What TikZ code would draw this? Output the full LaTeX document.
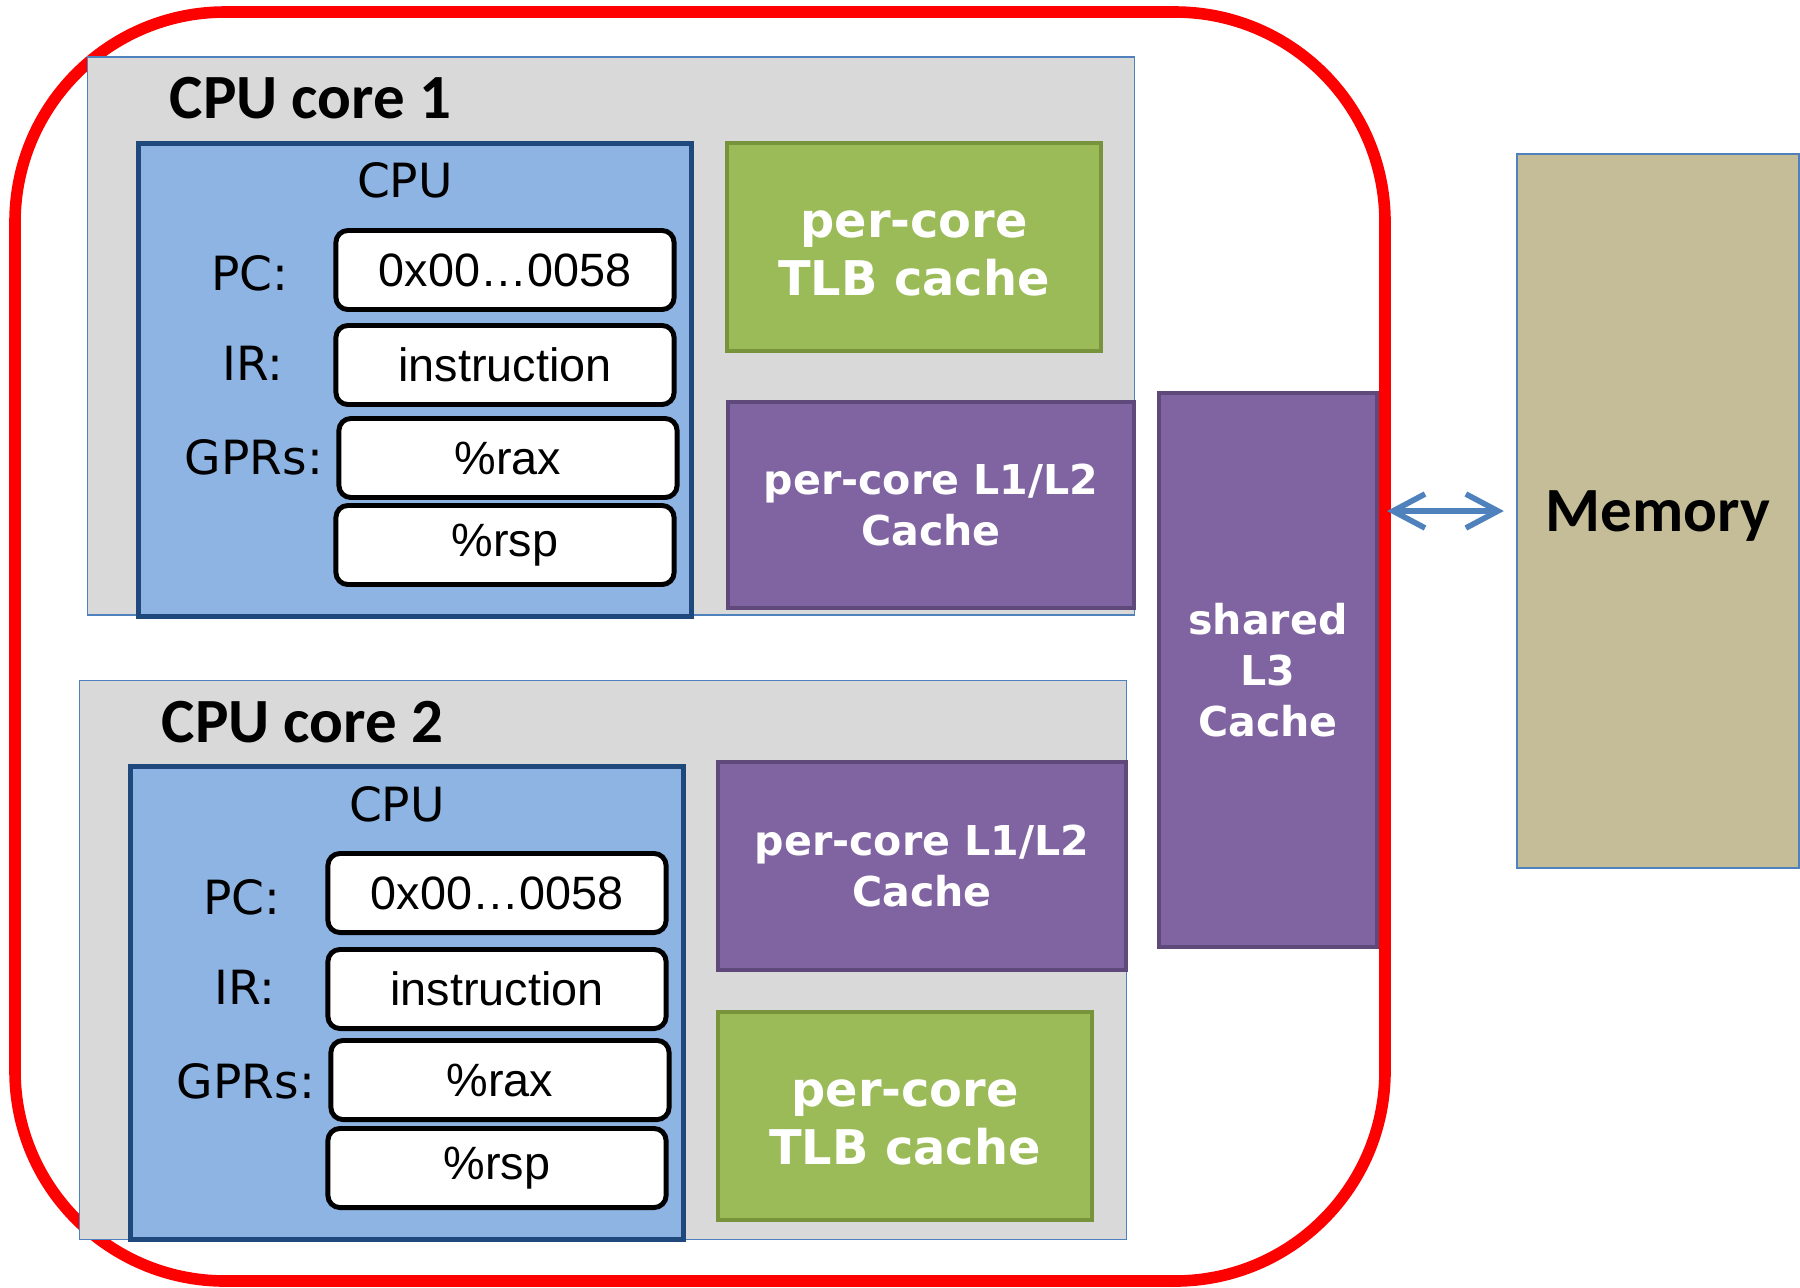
\documentclass[tikz,border=0pt]{standalone}
\usepackage{fontspec}
\setmainfont{DejaVu Sans}
\newfontfamily\headfont{Carlito}
\newfontfamily\regfont{Liberation Sans}
\usetikzlibrary{arrows.meta}
\usetikzlibrary{positioning}

\definecolor{coregray}{HTML}{D9D9D9}
\definecolor{coreedge}{HTML}{4F81BD}
\definecolor{cpublue}{HTML}{8EB4E3}
\definecolor{cpuedge}{HTML}{1F497D}
\definecolor{tlbgreen}{HTML}{9BBB59}
\definecolor{tlbedge}{HTML}{77933C}
\definecolor{cachepurple}{HTML}{8064A2}
\definecolor{cacheedge}{HTML}{5F497A}
\definecolor{memtan}{HTML}{C4BD97}

\begin{document}
\begin{tikzpicture}
	[x=0.01cm, y=-0.01cm,
	corebox/.style = {draw=coreedge, line width=0.4pt, fill=coregray, inner sep=0pt},
	cpubox/.style = {draw=cpuedge, line width=1.5pt, fill=cpublue, minimum width=5.53cm, minimum height=4.73cm, inner sep=0pt},
	regbox/.style = {draw=black, line width=1.4pt, fill=white, rounded corners=0.12cm, minimum width=3.38cm, minimum height=0.79cm, inner sep=0pt, font=\regfont\fontsize{13.3}{16}\selectfont},
	reglabel/.style = {inner sep=0pt, font=\fontsize{13.4}{16}\selectfont},
	tlbbox/.style = {draw=tlbedge, line width=1.1pt, fill=tlbgreen, minimum width=3.73cm, minimum height=2.08cm, inner sep=0pt},
	tlbtext/.style = {inner sep=0pt, align=center, text=white, font=\bfseries\fontsize{13.6}{16.5}\selectfont},
	cachebox/.style = {draw=cacheedge, line width=1.1pt, fill=cachepurple, inner sep=0pt, align=center, text=white, font=\bfseries\fontsize{11.7}{14.6}\selectfont},
	coretitle/.style = {anchor=base west, inner sep=0pt, font=\headfont\bfseries\fontsize{17.9}{20}\selectfont},
	barb/.tip = {Straight Barb[length=3.2mm,width=3.4mm]}
	]
	\useasboundingbox (0,0) rectangle (1800,1287);

	\node[cachebox, minimum width=2.18cm, minimum height=5.54cm] (l3) at (1268,670) {shared\\L3\\Cache};
	\draw[red, line width=3.3pt, rounded corners=2.1cm] (15,12) rectangle (1385,1281);

	\node[corebox, minimum width=10.46cm, minimum height=5.58cm] (core1) at (611,336) {};
	\node[coretitle] (title1) at (169,118) {CPU core 1};
	\node[cpubox] (cpu1) at (415,380) {};
	\node[reglabel, anchor=base] (cpulbl1) at (405,197) {CPU};
	\node[regbox] (pc1) at (505,270) {0x00…0058};
	\node[regbox] (ir1) at (505,365) {instruction};
	\node[regbox] (rax1) at (508,458) {\%rax};
	\node[regbox] (rsp1) at (505,545) {\%rsp};
	\node[reglabel] (pclbl1) at (250,273) {PC:};
	\node[reglabel] (irlbl1) at (253,363) {IR:};
	\node[reglabel] (gprlbl1) at (254,457) {GPRs:};
	\node[tlbbox] (tlb1) at (914,247) {};
	\node[tlbtext] (tlbtxt1) at (914,253) {per-core\\TLB cache};
	\node[cachebox, minimum width=4.06cm, minimum height=2.06cm] (l12a) at (931,505) {per-core L1/L2\\Cache};

	\node[corebox, minimum width=10.46cm, minimum height=5.59cm] (core2) at (603,960) {};
	\node[coretitle] (title2) at (161,742) {CPU core 2};
	\node[cpubox] (cpu2) at (407,1003) {};
	\node[reglabel, anchor=base] (cpulbl2) at (397,821) {CPU};
	\node[regbox] (pc2) at (497,893) {0x00…0058};
	\node[regbox] (ir2) at (497,989) {instruction};
	\node[regbox] (rax2) at (500,1080) {\%rax};
	\node[regbox] (rsp2) at (497,1168) {\%rsp};
	\node[reglabel] (pclbl2) at (242,897) {PC:};
	\node[reglabel] (irlbl2) at (245,987) {IR:};
	\node[reglabel] (gprlbl2) at (246,1081) {GPRs:};
	\node[cachebox, minimum width=4.07cm, minimum height=2.08cm] (l12b) at (922,866) {per-core L1/L2\\Cache};
	\node[tlbbox] (tlb2) at (905,1116) {};
	\node[tlbtext] (tlbtxt2) at (905,1122) {per-core\\TLB cache};

	\node[draw=coreedge, line width=0.6pt, fill=memtan, minimum width=2.82cm, minimum height=7.13cm, inner sep=0pt, text depth=0pt, font=\headfont\bfseries\fontsize{17.9}{20}\selectfont] (mem) at (1658,511) {Memory};

	\coordinate (l3port) at ([xshift=0.08cm]l3.east |- mem.west);
	\coordinate (memport) at ([xshift=-0.12cm]mem.west);
	\draw[barb-barb, coreedge, line width=1.6pt] (l3port) -- (memport);
\end{tikzpicture}
\end{document}
